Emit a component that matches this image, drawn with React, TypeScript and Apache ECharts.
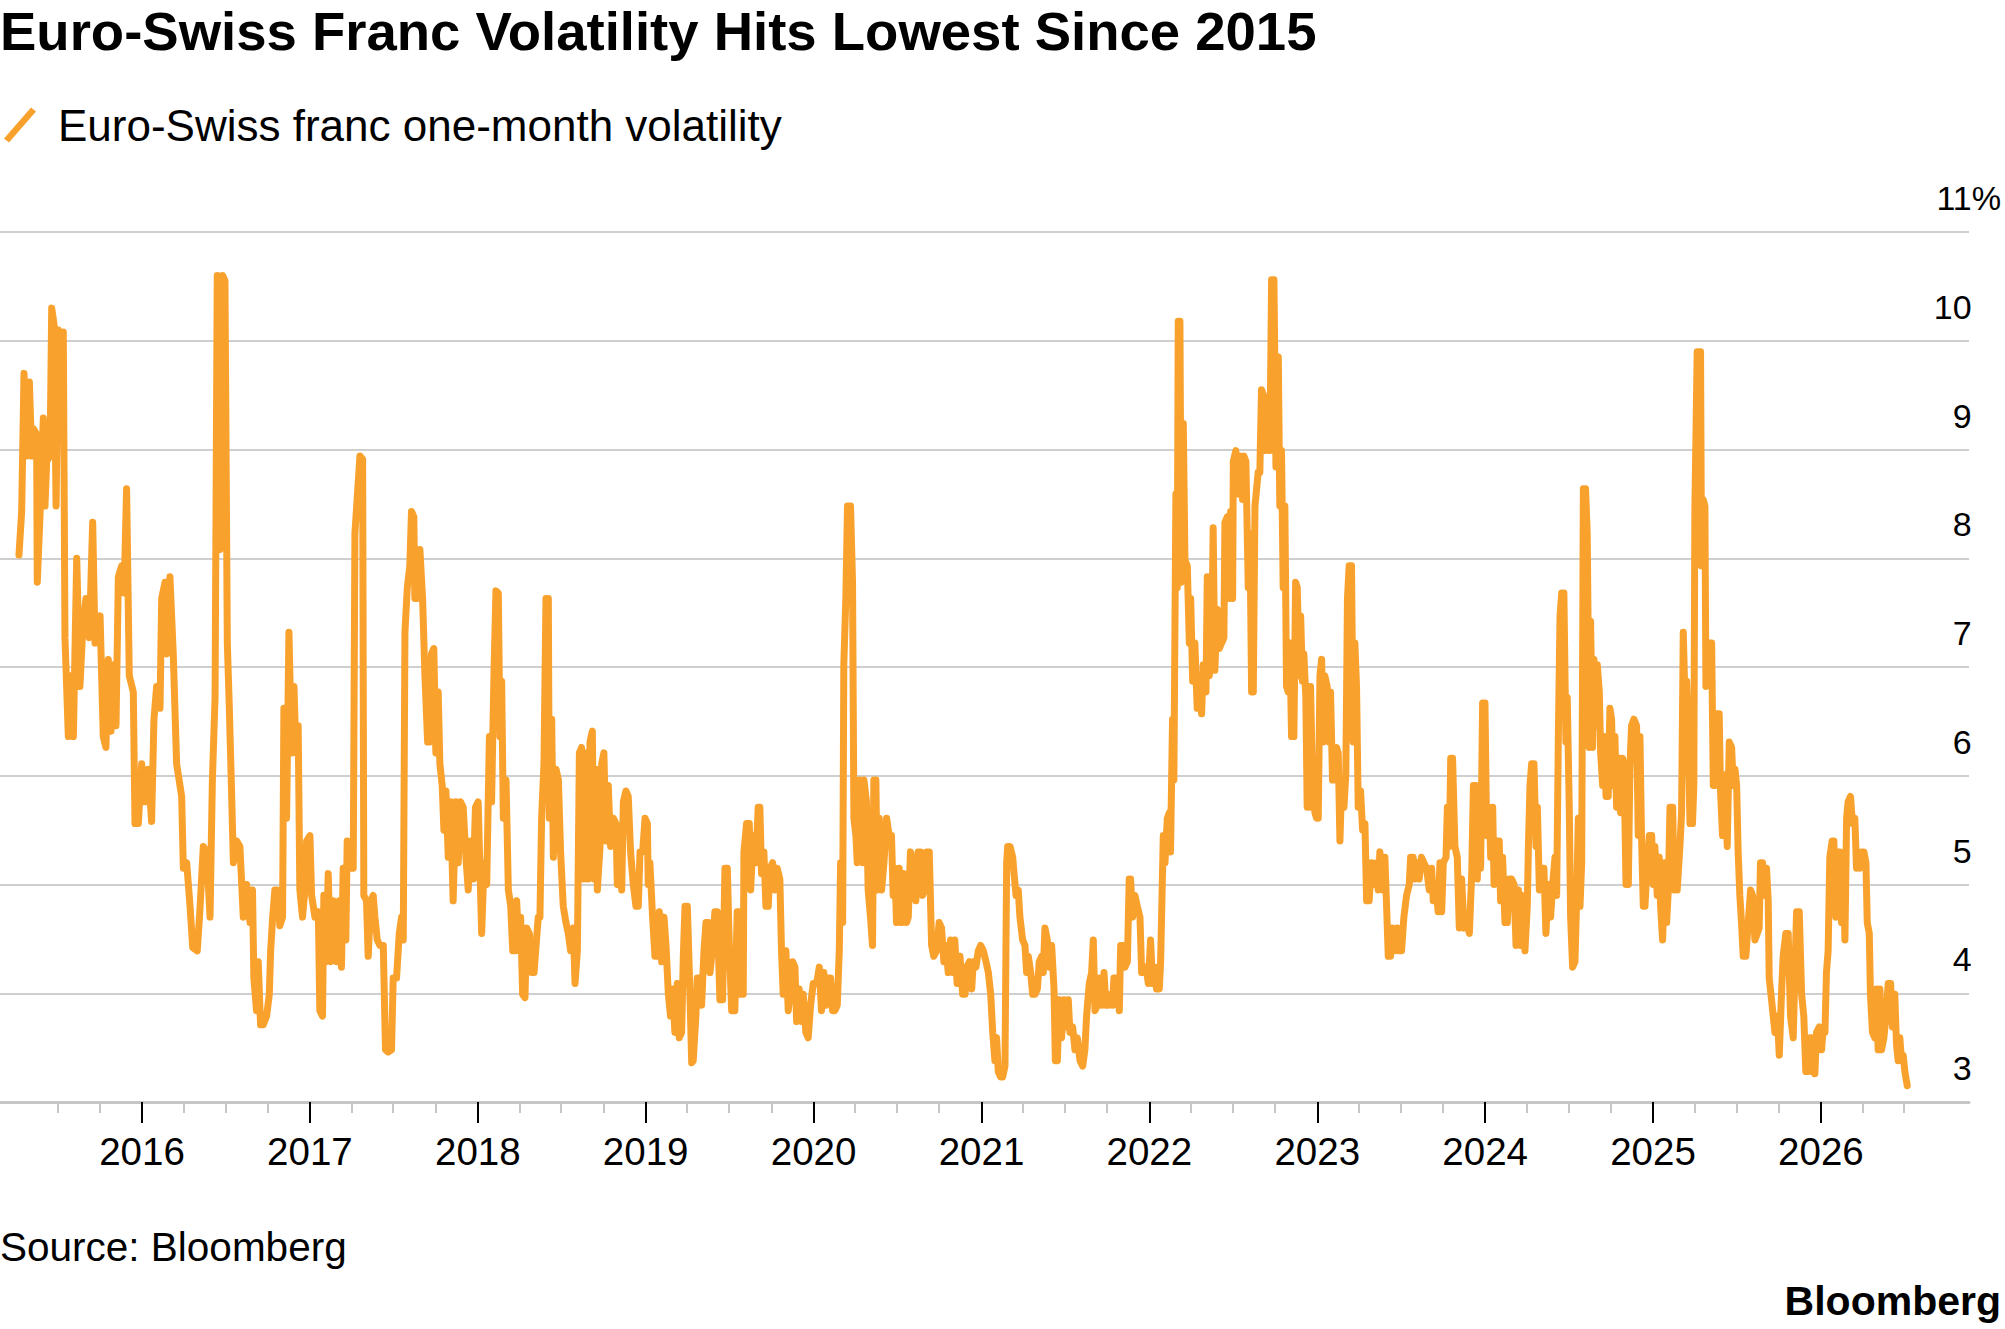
import React, { useEffect, useRef } from "react";
import * as echarts from "echarts";

const TITLE = "Euro-Swiss Franc Volatility Hits Lowest Since 2015";
const SERIES_NAME = "Euro-Swiss franc one-month volatility";
const SOURCE = "Source: Bloomberg";
const BRAND = "Bloomberg";

// x axis: decimal years
const X_MIN = 2015.154;
const X_MAX = 2026.882;
const yearTicks = [2016, 2017, 2018, 2019, 2020, 2021, 2022, 2023, 2024, 2025, 2026];
const quarterTicks = [
  2015.496, 2015.748,
  2016.247, 2016.496, 2016.748,
  2017.247, 2017.496, 2017.748,
  2018.247, 2018.496, 2018.748,
  2019.247, 2019.496, 2019.748,
  2020.247, 2020.496, 2020.748,
  2021.247, 2021.496, 2021.748,
  2022.247, 2022.496, 2022.748,
  2023.247, 2023.496, 2023.748,
  2024.247, 2024.496, 2024.748,
  2025.247, 2025.496, 2025.748,
  2026.247, 2026.496,
];
const Y_MIN = 3;
const Y_MAX = 11;

// [decimal year, one-month volatility %]
const vol2015 = [
  [2015.267, 8.03], [2015.283, 8.43], [2015.297, 9.7], [2015.313, 8.94], [2015.329, 9.62], [2015.343, 8.94],
  [2015.353, 9.19], [2015.372, 9.14], [2015.376, 7.78], [2015.392, 8.38], [2015.412, 9.29], [2015.422, 8.48],
  [2015.432, 8.89], [2015.452, 8.94], [2015.462, 10.3], [2015.476, 10.15], [2015.488, 8.48], [2015.501, 10.1],
  [2015.517, 9.24], [2015.531, 10.08], [2015.541, 7.27], [2015.561, 6.36], [2015.575, 6.92], [2015.591, 6.36],
  [2015.611, 8.0], [2015.63, 6.82], [2015.646, 7.32], [2015.666, 7.63], [2015.686, 7.27], [2015.706, 8.33],
  [2015.72, 7.22], [2015.75, 7.47], [2015.769, 6.36], [2015.785, 6.26], [2015.799, 7.07], [2015.815, 6.41],
  [2015.829, 7.02], [2015.845, 6.46], [2015.859, 7.83], [2015.879, 7.93], [2015.893, 7.68], [2015.908, 8.64],
  [2015.924, 6.92], [2015.948, 6.77], [2015.958, 5.56], [2015.978, 5.56], [2015.998, 6.11],
];
const vol2016 = [
  [2016.018, 5.76], [2016.037, 6.06], [2016.057, 5.58], [2016.071, 6.52], [2016.087, 6.82], [2016.107, 6.62],
  [2016.117, 7.63], [2016.137, 7.78], [2016.147, 7.12], [2016.166, 7.83], [2016.186, 7.12], [2016.206, 6.11],
  [2016.236, 5.81], [2016.246, 5.15], [2016.266, 5.2], [2016.286, 4.8], [2016.302, 4.42], [2016.329, 4.39],
  [2016.345, 4.77], [2016.365, 5.35], [2016.385, 5.3], [2016.405, 4.7], [2016.419, 5.96], [2016.435, 6.72],
  [2016.448, 10.6], [2016.464, 8.08], [2016.48, 10.6], [2016.494, 10.55], [2016.508, 7.22], [2016.52, 6.62],
  [2016.534, 5.81], [2016.544, 5.2], [2016.564, 5.4], [2016.583, 5.35], [2016.603, 4.7], [2016.623, 5.0],
  [2016.643, 4.65], [2016.658, 4.95], [2016.666, 4.14], [2016.682, 3.84], [2016.692, 4.29], [2016.706, 3.71],
  [2016.722, 3.71], [2016.742, 3.79], [2016.758, 3.99], [2016.766, 4.39], [2016.778, 4.7], [2016.791, 4.95],
  [2016.805, 4.95], [2016.821, 4.62], [2016.837, 4.7], [2016.845, 6.62], [2016.861, 5.61], [2016.875, 7.32],
  [2016.891, 6.21], [2016.905, 6.82], [2016.917, 6.21], [2016.93, 6.46], [2016.94, 4.95], [2016.956, 4.7],
  [2016.97, 4.95], [2016.98, 5.4],
];
const vol2017 = [
  [2017.0, 5.45], [2017.01, 4.9], [2017.03, 4.7], [2017.05, 4.75], [2017.059, 3.84], [2017.075, 3.79],
  [2017.083, 4.9], [2017.095, 4.29], [2017.109, 5.1], [2017.123, 4.29], [2017.139, 4.85], [2017.159, 4.29],
  [2017.175, 4.85], [2017.188, 4.24], [2017.198, 5.15], [2017.214, 4.49], [2017.222, 5.4], [2017.238, 5.15],
  [2017.258, 5.15], [2017.268, 8.23], [2017.298, 8.94], [2017.314, 8.91], [2017.321, 4.9], [2017.337, 4.85],
  [2017.347, 4.34], [2017.363, 4.85], [2017.377, 4.9], [2017.387, 4.7], [2017.401, 4.49], [2017.417, 4.44],
  [2017.437, 4.44], [2017.45, 3.48], [2017.466, 3.46], [2017.486, 3.48], [2017.496, 4.14], [2017.516, 4.14],
  [2017.532, 4.55], [2017.546, 4.7], [2017.556, 4.49], [2017.566, 7.32], [2017.58, 7.73], [2017.595, 7.93],
  [2017.605, 8.43], [2017.619, 8.38], [2017.625, 7.63], [2017.641, 7.63], [2017.655, 8.08], [2017.671, 7.63],
  [2017.685, 6.92], [2017.701, 6.31], [2017.715, 6.31], [2017.724, 7.12], [2017.738, 7.17], [2017.75, 6.21],
  [2017.764, 6.77], [2017.774, 6.11], [2017.788, 5.91], [2017.798, 5.5], [2017.81, 5.86], [2017.824, 5.25],
  [2017.838, 5.76], [2017.853, 4.85], [2017.869, 5.76], [2017.883, 5.2], [2017.897, 5.76], [2017.913, 5.71],
  [2017.929, 5.25], [2017.943, 4.95], [2017.957, 5.4], [2017.973, 5.05], [2017.986, 5.71],
];
const vol2018 = [
  [2018.002, 5.76], [2018.023, 4.55], [2018.037, 5.2], [2018.053, 5.0], [2018.069, 6.36], [2018.082, 5.76],
  [2018.096, 6.92], [2018.108, 7.7], [2018.122, 7.68], [2018.132, 6.36], [2018.142, 6.87], [2018.152, 5.61],
  [2018.168, 5.96], [2018.182, 4.95], [2018.196, 4.8], [2018.208, 4.39], [2018.221, 4.39], [2018.231, 4.85],
  [2018.247, 4.39], [2018.255, 4.7], [2018.267, 3.99], [2018.281, 3.96], [2018.291, 4.6], [2018.307, 4.55],
  [2018.321, 4.19], [2018.335, 4.19], [2018.347, 4.44], [2018.36, 4.7], [2018.37, 4.7], [2018.38, 5.61],
  [2018.394, 6.11], [2018.406, 7.63], [2018.42, 7.63], [2018.426, 5.61], [2018.44, 6.52], [2018.45, 5.25],
  [2018.466, 6.06], [2018.48, 5.96], [2018.493, 5.3], [2018.509, 4.8], [2018.525, 4.65], [2018.539, 4.55],
  [2018.553, 4.39], [2018.569, 4.6], [2018.579, 4.09], [2018.593, 4.39], [2018.605, 6.21], [2018.618, 6.26],
  [2018.632, 5.05], [2018.644, 6.21], [2018.658, 5.05], [2018.668, 6.31], [2018.682, 6.41], [2018.692, 5.05],
  [2018.704, 6.06], [2018.712, 4.95], [2018.728, 5.35], [2018.738, 6.11], [2018.751, 6.21], [2018.763, 5.4],
  [2018.777, 5.91], [2018.791, 5.35], [2018.807, 5.61], [2018.823, 5.56], [2018.831, 5.0], [2018.843, 5.3],
  [2018.857, 4.95], [2018.867, 5.76], [2018.882, 5.86], [2018.896, 5.81], [2018.91, 5.3], [2018.926, 5.0],
  [2018.942, 4.8], [2018.956, 4.8], [2018.966, 5.3], [2018.982, 5.3], [2018.996, 5.61],
];
const vol2019 = [
  [2019.01, 5.56], [2019.015, 5.0], [2019.025, 5.2], [2019.041, 4.7], [2019.055, 4.34], [2019.069, 4.34],
  [2019.081, 4.75], [2019.095, 4.29], [2019.109, 4.7], [2019.121, 4.44], [2019.135, 3.99], [2019.148, 3.79],
  [2019.16, 4.04], [2019.174, 3.64], [2019.188, 4.09], [2019.2, 3.59], [2019.214, 3.64], [2019.224, 4.34],
  [2019.234, 4.8], [2019.248, 4.8], [2019.26, 4.19], [2019.274, 3.36], [2019.283, 3.38], [2019.299, 3.79],
  [2019.307, 4.14], [2019.323, 4.14], [2019.333, 3.89], [2019.347, 4.39], [2019.359, 4.65], [2019.373, 4.65],
  [2019.383, 4.19], [2019.399, 4.44], [2019.412, 4.75], [2019.426, 4.75], [2019.442, 3.94], [2019.458, 3.94],
  [2019.472, 5.15], [2019.486, 5.15], [2019.498, 4.44], [2019.512, 3.84], [2019.531, 3.84], [2019.545, 4.75],
  [2019.557, 4.75], [2019.565, 3.99], [2019.581, 3.99], [2019.585, 5.3], [2019.601, 5.56], [2019.617, 5.56],
  [2019.625, 4.95], [2019.641, 5.45], [2019.656, 5.2], [2019.67, 5.71], [2019.68, 5.71], [2019.69, 5.1],
  [2019.704, 5.3], [2019.716, 4.8], [2019.73, 4.8], [2019.74, 5.15], [2019.756, 5.2], [2019.77, 4.95],
  [2019.783, 5.15], [2019.799, 5.05], [2019.809, 4.39], [2019.819, 3.99], [2019.835, 4.39], [2019.849, 3.84],
  [2019.863, 4.04], [2019.875, 4.29], [2019.889, 4.24], [2019.899, 3.74], [2019.914, 4.04], [2019.928, 3.74],
  [2019.938, 3.99], [2019.954, 3.64], [2019.968, 3.59], [2019.982, 3.89], [2019.998, 4.09],
];
const vol2020 = [
  [2020.018, 4.09], [2020.034, 4.24], [2020.047, 3.84], [2020.061, 4.19], [2020.073, 3.89], [2020.087, 4.14],
  [2020.101, 4.14], [2020.113, 3.84], [2020.127, 3.84], [2020.141, 3.89], [2020.153, 4.39], [2020.161, 5.2],
  [2020.173, 4.65], [2020.18, 7.02], [2020.192, 7.63], [2020.202, 8.48], [2020.22, 8.48], [2020.232, 7.78],
  [2020.24, 5.61], [2020.252, 5.45], [2020.26, 5.2], [2020.276, 5.96], [2020.292, 5.2], [2020.3, 5.96],
  [2020.315, 5.76], [2020.325, 4.95], [2020.339, 4.7], [2020.351, 4.44], [2020.359, 5.96], [2020.371, 5.96],
  [2020.379, 4.95], [2020.391, 5.61], [2020.405, 4.95], [2020.419, 5.2], [2020.435, 5.61], [2020.45, 5.45],
  [2020.464, 5.45], [2020.474, 4.9], [2020.484, 5.15], [2020.494, 4.65], [2020.51, 5.15], [2020.524, 4.65],
  [2020.538, 5.1], [2020.554, 4.65], [2020.564, 4.7], [2020.577, 5.3], [2020.593, 5.2], [2020.609, 4.85],
  [2020.623, 5.3], [2020.637, 5.3], [2020.649, 4.9], [2020.663, 4.95], [2020.673, 5.3], [2020.689, 5.3],
  [2020.703, 4.44], [2020.716, 4.34], [2020.732, 4.39], [2020.748, 4.65], [2020.762, 4.6], [2020.776, 4.29],
  [2020.788, 4.44], [2020.802, 4.19], [2020.816, 4.49], [2020.828, 4.19], [2020.841, 4.49], [2020.855, 4.09],
  [2020.872, 4.34], [2020.888, 3.99], [2020.902, 3.99], [2020.912, 4.24], [2020.928, 4.29], [2020.942, 4.04],
  [2020.951, 4.29], [2020.967, 4.24], [2020.981, 4.39], [2020.995, 4.44],
];
const vol2021 = [
  [2021.011, 4.39], [2021.027, 4.29], [2021.041, 4.19], [2021.055, 3.99], [2021.067, 3.64], [2021.08, 3.38],
  [2021.09, 3.59], [2021.1, 3.28], [2021.114, 3.23], [2021.126, 3.23], [2021.14, 3.33], [2021.15, 5.2],
  [2021.156, 5.35], [2021.17, 5.35], [2021.186, 5.25], [2021.194, 5.1], [2021.206, 4.9], [2021.219, 4.95],
  [2021.229, 4.7], [2021.245, 4.49], [2021.259, 4.44], [2021.269, 4.19], [2021.279, 4.34], [2021.293, 4.19],
  [2021.305, 3.99], [2021.319, 3.99], [2021.333, 4.04], [2021.344, 4.29], [2021.358, 4.34], [2021.368, 4.19],
  [2021.378, 4.6], [2021.392, 4.49], [2021.404, 4.24], [2021.418, 4.44], [2021.432, 4.04], [2021.44, 3.38],
  [2021.452, 3.38], [2021.464, 3.94], [2021.477, 3.59], [2021.491, 3.94], [2021.503, 3.69], [2021.517, 3.94],
  [2021.527, 3.64], [2021.543, 3.69], [2021.557, 3.48], [2021.571, 3.59], [2021.587, 3.38], [2021.603, 3.33],
  [2021.616, 3.48], [2021.626, 3.79], [2021.642, 4.09], [2021.656, 4.19], [2021.666, 4.49], [2021.676, 3.84],
  [2021.69, 3.89], [2021.702, 4.14], [2021.716, 3.89], [2021.73, 4.19], [2021.741, 3.89], [2021.755, 3.89],
  [2021.769, 3.99], [2021.781, 3.89], [2021.789, 4.14], [2021.805, 4.14], [2021.821, 3.84], [2021.829, 4.44],
  [2021.845, 4.44], [2021.855, 4.24], [2021.869, 4.29], [2021.88, 5.05], [2021.888, 5.05], [2021.9, 4.7],
  [2021.914, 4.9], [2021.928, 4.8], [2021.944, 4.7], [2021.954, 4.19], [2021.968, 4.19], [2021.98, 4.24],
  [2021.994, 4.09],
];
const vol2022 = [
  [2022.007, 4.49], [2022.019, 4.09], [2022.033, 4.24], [2022.043, 4.04], [2022.059, 4.04], [2022.067, 4.29],
  [2022.083, 5.45], [2022.093, 5.2], [2022.107, 5.61], [2022.119, 5.66], [2022.126, 5.3], [2022.138, 6.52],
  [2022.146, 5.96], [2022.158, 8.59], [2022.166, 7.73], [2022.172, 10.18], [2022.182, 10.18], [2022.19, 7.78],
  [2022.202, 9.24], [2022.212, 7.98], [2022.226, 7.93], [2022.238, 7.22], [2022.246, 7.63], [2022.258, 6.87],
  [2022.271, 7.22], [2022.285, 6.62], [2022.297, 6.92], [2022.311, 6.57], [2022.321, 7.02], [2022.337, 6.77],
  [2022.345, 7.83], [2022.357, 6.92], [2022.371, 7.12], [2022.38, 8.28], [2022.39, 6.97], [2022.404, 7.53],
  [2022.416, 7.17], [2022.43, 7.22], [2022.444, 7.27], [2022.45, 8.33], [2022.464, 8.38], [2022.476, 7.63],
  [2022.484, 8.43], [2022.496, 7.63], [2022.5, 8.89], [2022.515, 8.99], [2022.529, 8.59], [2022.539, 8.94],
  [2022.555, 8.54], [2022.563, 8.94], [2022.575, 8.89], [2022.589, 7.73], [2022.599, 8.23], [2022.609, 6.77],
  [2022.619, 6.77], [2022.629, 8.48], [2022.639, 8.64], [2022.648, 8.79], [2022.658, 8.79], [2022.668, 9.55],
  [2022.682, 9.49], [2022.694, 8.99], [2022.708, 9.44], [2022.718, 8.99], [2022.728, 10.56], [2022.742, 10.56],
  [2022.754, 8.84], [2022.768, 9.85], [2022.777, 8.48], [2022.787, 8.99], [2022.797, 7.73], [2022.807, 8.48],
  [2022.817, 6.82], [2022.827, 6.77], [2022.837, 7.22], [2022.847, 6.36], [2022.861, 6.36], [2022.871, 7.78],
  [2022.881, 7.73], [2022.893, 6.92], [2022.901, 7.47], [2022.912, 6.87], [2022.92, 7.12], [2022.932, 6.72],
  [2022.94, 5.71], [2022.952, 5.71], [2022.96, 6.82], [2022.972, 5.91], [2022.986, 5.66], [2022.996, 5.61],
];
const vol2023 = [
  [2023.006, 5.61], [2023.016, 6.92], [2023.026, 7.07], [2023.036, 6.31], [2023.045, 6.92], [2023.059, 6.82],
  [2023.071, 6.31], [2023.079, 6.77], [2023.091, 5.96], [2023.105, 5.96], [2023.115, 6.26], [2023.125, 6.21],
  [2023.135, 5.4], [2023.145, 5.91], [2023.159, 5.71], [2023.17, 6.01], [2023.18, 7.63], [2023.19, 7.93],
  [2023.204, 7.93], [2023.214, 6.31], [2023.224, 7.22], [2023.234, 6.82], [2023.244, 5.71], [2023.258, 5.86],
  [2023.27, 5.5], [2023.284, 5.56], [2023.294, 4.85], [2023.309, 4.85], [2023.323, 5.2], [2023.337, 5.0],
  [2023.353, 5.2], [2023.363, 4.95], [2023.373, 5.3], [2023.389, 4.95], [2023.403, 5.25], [2023.413, 4.8],
  [2023.423, 4.34], [2023.436, 4.34], [2023.448, 4.6], [2023.462, 4.39], [2023.476, 4.6], [2023.488, 4.39],
  [2023.502, 4.39], [2023.516, 4.7], [2023.532, 4.9], [2023.548, 5.0], [2023.556, 5.25], [2023.571, 5.25],
  [2023.581, 5.05], [2023.595, 5.2], [2023.607, 5.05], [2023.621, 5.25], [2023.635, 5.2], [2023.651, 5.15],
  [2023.667, 4.95], [2023.681, 5.15], [2023.691, 4.85], [2023.706, 5.0], [2023.72, 4.75], [2023.731, 5.2],
  [2023.741, 4.75], [2023.751, 5.2], [2023.767, 5.25], [2023.775, 5.71], [2023.787, 5.35], [2023.795, 6.16],
  [2023.806, 6.16], [2023.82, 5.35], [2023.834, 5.25], [2023.846, 4.6], [2023.86, 5.05], [2023.874, 4.6],
  [2023.89, 4.65], [2023.906, 4.55], [2023.92, 5.1], [2023.93, 5.91], [2023.945, 5.91], [2023.953, 5.05],
  [2023.965, 5.71], [2023.973, 5.15], [2023.985, 6.67], [2023.999, 6.67],
];
const vol2024 = [
  [2024.009, 5.45], [2024.025, 5.71], [2024.033, 5.25], [2024.045, 5.71], [2024.053, 5.0], [2024.069, 5.4],
  [2024.084, 5.4], [2024.092, 4.85], [2024.104, 5.25], [2024.118, 4.65], [2024.132, 4.65], [2024.144, 5.05],
  [2024.158, 5.05], [2024.172, 5.0], [2024.184, 4.44], [2024.198, 4.95], [2024.211, 4.44], [2024.223, 4.9],
  [2024.237, 4.39], [2024.251, 4.8], [2024.257, 5.3], [2024.267, 5.91], [2024.277, 6.11], [2024.291, 6.11],
  [2024.303, 5.35], [2024.311, 5.71], [2024.323, 4.95], [2024.336, 5.15], [2024.35, 5.15], [2024.362, 4.55],
  [2024.376, 5.0], [2024.39, 4.7], [2024.402, 5.0], [2024.416, 5.25], [2024.426, 4.9], [2024.436, 6.36],
  [2024.446, 7.47], [2024.456, 7.68], [2024.469, 7.68], [2024.481, 6.31], [2024.489, 6.72], [2024.501, 5.71],
  [2024.509, 4.7], [2024.521, 4.24], [2024.535, 4.29], [2024.545, 4.85], [2024.555, 5.61], [2024.565, 4.8],
  [2024.575, 5.2], [2024.585, 8.64], [2024.598, 8.64], [2024.608, 8.23], [2024.62, 6.26], [2024.628, 7.42],
  [2024.64, 6.26], [2024.648, 7.07], [2024.66, 6.46], [2024.668, 7.02], [2024.68, 6.77], [2024.688, 6.21],
  [2024.7, 5.91], [2024.708, 6.36], [2024.72, 5.81], [2024.733, 5.81], [2024.743, 6.62], [2024.753, 6.52],
  [2024.763, 5.91], [2024.773, 6.36], [2024.783, 5.71], [2024.799, 6.16], [2024.807, 5.66], [2024.819, 6.16],
  [2024.827, 6.11], [2024.839, 5.0], [2024.853, 5.0], [2024.862, 6.06], [2024.872, 6.46], [2024.886, 6.52],
  [2024.902, 6.46], [2024.912, 5.45], [2024.922, 6.36], [2024.932, 5.4], [2024.942, 4.8], [2024.952, 4.8],
  [2024.962, 5.1], [2024.978, 5.45], [2024.992, 5.45],
];
const vol2025 = [
  [2025.001, 5.0], [2025.011, 5.35], [2025.025, 4.9], [2025.037, 5.25], [2025.045, 4.8], [2025.057, 4.49],
  [2025.071, 5.2], [2025.081, 4.65], [2025.091, 4.95], [2025.101, 5.71], [2025.117, 5.71], [2025.125, 4.95],
  [2025.136, 5.25], [2025.144, 4.95], [2025.16, 5.35], [2025.17, 5.66], [2025.18, 7.32], [2025.19, 6.72],
  [2025.2, 6.87], [2025.21, 6.36], [2025.22, 5.56], [2025.235, 5.56], [2025.243, 5.91], [2025.249, 8.43],
  [2025.263, 9.9], [2025.283, 9.9], [2025.289, 7.93], [2025.299, 8.54], [2025.309, 8.48], [2025.315, 6.82],
  [2025.329, 6.92], [2025.335, 7.22], [2025.349, 7.22], [2025.359, 5.91], [2025.368, 5.91], [2025.378, 6.57],
  [2025.394, 6.57], [2025.402, 5.86], [2025.414, 5.45], [2025.428, 6.01], [2025.442, 5.35], [2025.454, 6.31],
  [2025.468, 6.26], [2025.478, 5.91], [2025.488, 6.06], [2025.498, 5.91], [2025.507, 5.3], [2025.517, 4.9],
  [2025.527, 4.65], [2025.537, 4.34], [2025.553, 4.34], [2025.567, 4.65], [2025.581, 4.95], [2025.593, 4.9],
  [2025.607, 4.49], [2025.621, 4.55], [2025.632, 4.6], [2025.64, 5.2], [2025.652, 5.2], [2025.666, 4.9],
  [2025.676, 5.15], [2025.686, 4.85], [2025.692, 4.14], [2025.706, 3.94], [2025.716, 3.79], [2025.726, 3.64],
  [2025.74, 3.79], [2025.752, 3.43], [2025.765, 3.99], [2025.775, 4.34], [2025.791, 4.55], [2025.805, 4.55],
  [2025.819, 3.79], [2025.835, 3.59], [2025.845, 4.19], [2025.855, 4.75], [2025.871, 4.75], [2025.885, 3.99],
  [2025.898, 3.79], [2025.91, 3.28], [2025.924, 3.28], [2025.934, 3.59], [2025.944, 3.28], [2025.954, 3.59],
  [2025.964, 3.26], [2025.974, 3.64], [2025.99, 3.69],
];
const vol2026 = [
  [2026.004, 3.48], [2026.014, 3.69], [2026.024, 3.64], [2026.033, 4.19], [2026.043, 4.39], [2026.053, 5.25],
  [2026.067, 5.4], [2026.077, 5.4], [2026.089, 4.7], [2026.097, 5.3], [2026.113, 5.3], [2026.123, 4.65],
  [2026.133, 5.2], [2026.143, 4.49], [2026.153, 5.61], [2026.162, 5.76], [2026.176, 5.81], [2026.188, 5.56],
  [2026.202, 5.61], [2026.212, 5.15], [2026.222, 5.3], [2026.232, 5.15], [2026.242, 5.3], [2026.256, 5.3],
  [2026.268, 5.2], [2026.276, 4.65], [2026.288, 4.55], [2026.295, 3.99], [2026.307, 3.64], [2026.321, 3.59],
  [2026.331, 4.04], [2026.341, 3.48], [2026.351, 4.04], [2026.361, 3.48], [2026.375, 3.59], [2026.387, 3.79],
  [2026.401, 4.09], [2026.415, 4.09], [2026.426, 3.69], [2026.44, 3.99], [2026.45, 3.53], [2026.46, 3.38],
  [2026.47, 3.59], [2026.48, 3.38], [2026.49, 3.43], [2026.5, 3.28], [2026.514, 3.15],
];

const volatility = [
  ...vol2015, ...vol2016, ...vol2017, ...vol2018, ...vol2019, ...vol2020,
  ...vol2021, ...vol2022, ...vol2023, ...vol2024, ...vol2025, ...vol2026,
];

const ORANGE = "#F9A12D";
const GRID_GREY = "#cfcfcf";
const FONT = "'Liberation Sans', Arial, Helvetica, sans-serif";

export default function App() {
  const ref = useRef<HTMLDivElement>(null);

  useEffect(() => {
    if (!ref.current) return;
    const chart = echarts.init(ref.current, undefined, { renderer: "svg", width: 2005, height: 1329 });
    const option: any = {
      animation: false,
      backgroundColor: "#ffffff",
      textStyle: { fontFamily: FONT },
      title: {
        text: TITLE,
        left: 0,
        top: 4,
        padding: 0,
        textStyle: { fontSize: 54.5, fontWeight: "bold", color: "#000", fontFamily: FONT },
      },
      legend: {
        left: 4,
        top: 103,
        padding: 0,
        itemWidth: 32,
        itemHeight: 35,
        selectedMode: false,
        icon: "path://M0,31 L27,0 L32,4 L5,35 Z",
        textStyle: { fontSize: 44, color: "#000", fontFamily: FONT, padding: [0, 0, 0, 17] },
        data: [{ name: SERIES_NAME, itemStyle: { color: ORANGE } }],
      },
      grid: { left: 0, right: 36, top: 232, bottom: 227, containLabel: false, outerBoundsMode: "none" },
      xAxis: [
        {
          type: "value",
          min: X_MIN,
          max: X_MAX,
          position: "bottom",
          axisLine: { show: true, onZero: false, lineStyle: { color: "#c6c6c6", width: 3 } },
          axisTick: { show: true, customValues: yearTicks, length: 21, lineStyle: { color: "#000", width: 2 } },
          axisLabel: {
            show: true,
            customValues: yearTicks,
            margin: 30,
            fontSize: 38.5,
            color: "#000",
            fontFamily: FONT,
            formatter: (v: number) => String(Math.round(v)),
          },
          splitLine: { show: false },
        },
        {
          type: "value",
          min: X_MIN,
          max: X_MAX,
          position: "bottom",
          axisLine: { show: false, onZero: false },
          axisTick: { show: true, customValues: quarterTicks, length: 11, lineStyle: { color: "#c6c6c6", width: 2 } },
          axisLabel: { show: false },
          splitLine: { show: false },
        },
      ],
      yAxis: {
        type: "value",
        min: Y_MIN,
        max: Y_MAX,
        interval: 1,
        position: "right",
        offset: 32,
        axisLine: { show: false },
        axisTick: { show: false },
        splitLine: { show: true, lineStyle: { color: GRID_GREY, width: 2 } },
        axisLabel: {
          inside: true,
          margin: 0,
          color: "#000",
          fontSize: 34,
          fontFamily: FONT,
          verticalAlign: "bottom",
          padding: [0, 0, 17, 0],
          formatter: (v: number) => (v === Y_MAX ? `${v}{p|%}` : `${v}{h|%}`),
          rich: {
            p: { fontSize: 33, color: "#000", fontFamily: FONT },
            h: { fontSize: 33, color: "rgba(0,0,0,0)", fontFamily: FONT },
          },
        },
      },
      series: [
        {
          name: SERIES_NAME,
          type: "line",
          xAxisIndex: 0,
          yAxisIndex: 0,
          data: volatility,
          showSymbol: false,
          symbol: "none",
          itemStyle: { color: ORANGE },
          lineStyle: { color: ORANGE, width: 7, join: "round", cap: "round" },
          z: 3,
        },
      ],
      graphic: [
        {
          type: "text",
          left: 0,
          top: 1226,
          style: { text: SOURCE, fontSize: 40.5, fill: "#000", fontFamily: FONT },
        },
        {
          type: "text",
          right: 4,
          top: 1280,
          style: { text: BRAND, fontSize: 41, fontWeight: "bold", fill: "#000", fontFamily: FONT },
        },
      ],
    };
    chart.setOption(option);
    return () => chart.dispose();
  }, []);

  return (
    <div
      ref={ref}
      style={{ position: "absolute", left: 0, top: 0, width: 2005, height: 1329, background: "#fff" }}
    />
  );
}
